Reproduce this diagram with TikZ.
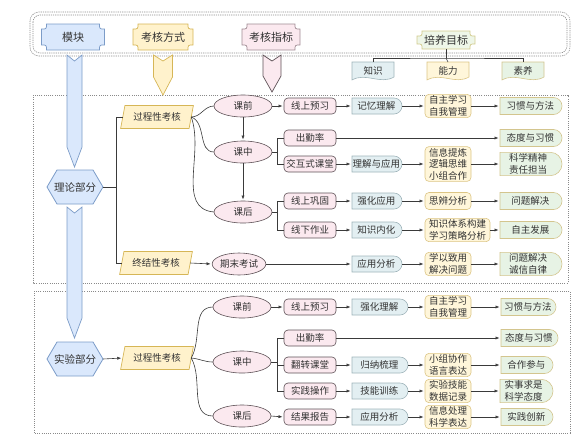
\documentclass[tikz,border=0pt]{standalone}
\usepackage{fontspec}
\newfontfamily\cjk{Noto Sans CJK SC}
\usetikzlibrary{shapes.geometric,shapes.misc,arrows.meta,calc,backgrounds}
\definecolor{txt}{HTML}{333333}
\definecolor{lnC}{HTML}{3A3A3A}
\definecolor{blueF}{HTML}{DAE8FC}
\definecolor{blueD}{HTML}{7C9CC8}
\definecolor{yelF}{HTML}{FFF2CC}
\definecolor{yelD}{HTML}{D6B656}
\definecolor{pinkF}{HTML}{FBE9EF}
\definecolor{pinkD}{HTML}{5E5257}
\definecolor{pinkH}{HTML}{A08C94}
\definecolor{cyanF}{HTML}{E3EFF2}
\definecolor{cyanD}{HTML}{9FB4BA}
\definecolor{creamF}{HTML}{FFF6DA}
\definecolor{creamD}{HTML}{DCC585}
\definecolor{greenF}{HTML}{E7F3E5}
\definecolor{greenD}{HTML}{D3C58E}
\definecolor{goalF}{HTML}{EEF6E8}
\definecolor{goalD}{HTML}{D2CB8E}
\definecolor{frameC}{HTML}{8A8A8A}

\newcommand\plaque[3]{\path[fill=#2,draw=#3,line width=0.7pt]
 ($(#1.north west)+(5pt,0)$) -- ($(#1.north east)+(-5pt,0)$)
 .. controls ($(#1.north east)+(-5pt,-5pt)$) .. ($(#1.north east)+(0,-5pt)$)
 -- ($(#1.south east)+(0,5pt)$)
 .. controls ($(#1.south east)+(-5pt,5pt)$) .. ($(#1.south east)+(-5pt,0)$)
 -- ($(#1.south west)+(5pt,0)$)
 .. controls ($(#1.south west)+(5pt,5pt)$) .. ($(#1.south west)+(0,5pt)$)
 -- ($(#1.north west)+(0,-5pt)$)
 .. controls ($(#1.north west)+(5pt,-5pt)$) .. ($(#1.north west)+(5pt,0)$) -- cycle;}
\newcommand\hexa[3]{\path[fill=#2,draw=#3,line width=0.8pt] (#1.west) -- ($(#1.north west)+(10pt,0)$) -- ($(#1.north east)+(-10pt,0)$) -- (#1.east) -- ($(#1.south east)+(-10pt,0)$) -- ($(#1.south west)+(10pt,0)$) -- cycle;}
\newcommand\docshape[3]{\path[fill=#2,draw=#3,line width=0.6pt] (#1.north west) -- (#1.north east) -- ($(#1.south east)+(0,3pt)$) .. controls ($(#1.south east)+(-14pt,-5pt)$) and ($(#1.south west)+(14pt,8pt)$) .. (#1.south west) -- cycle;}
\newcommand\barrow[8]{\path[fill=#7,draw=#8,line width=0.7pt] (#1-#4,#2) -- (#1,#2+#5) -- (#1+#4,#2) -- (#1+#4,#3-#6) -- (#1,#3) -- (#1-#4,#3-#6) -- cycle;}

\begin{document}
\begin{tikzpicture}[x=1pt,y=-1pt,
  base/.style={font=\cjk\fontsize{9.5}{11.5}\selectfont, text=txt, align=center, inner sep=0pt, outer sep=0pt},
  hdr/.style={base, font=\cjk\fontsize{11}{13}\selectfont},
  ell/.style={base, ellipse, draw=pinkD, fill=pinkF, line width=0.6pt, minimum width=58pt, minimum height=22pt},
  abox/.style={base, draw=pinkD, fill=pinkF, rounded corners=4pt, line width=0.6pt, minimum width=52pt, minimum height=16pt},
  bbox/.style={base, rounded rectangle, rounded rectangle west arc=none, draw=cyanD, fill=cyanF, line width=0.6pt, minimum width=50pt, minimum height=16pt, anchor=west},
  cbox/.style={base, draw=creamD, fill=creamF, rounded corners=4pt, line width=0.6pt, minimum width=46pt, minimum height=17pt, inner xsep=4pt, inner ysep=1.5pt, anchor=west},
  dbox/.style={base, rounded rectangle, rounded rectangle west arc=none, draw=greenD, fill=greenF, line width=0.6pt, minimum width=62pt, minimum height=17pt, inner ysep=1.5pt, anchor=west},
  para/.style={base, trapezium, trapezium left angle=70, trapezium right angle=110, trapezium stretches=true, draw=yelD, fill=yelF, line width=0.7pt, minimum width=73pt, minimum height=23pt},
  part/.style={base, font=\cjk\fontsize{10.5}{12}\selectfont, minimum width=56pt, minimum height=34pt},
  ln/.style={draw=lnC, line width=0.6pt},
  trunk/.style={draw=lnC, line width=1pt},
  arr/.style={ln, -{Latex[length=4pt,width=3.2pt]}, shorten >=1.5pt}]
\useasboundingbox (0,0) rectangle (588,437);

% frames
\draw[frameC, line width=0.6pt, dash pattern=on 1.2pt off 1pt, rounded corners=9pt] (30,12) rectangle (570,56);
\draw[frameC, line width=0.6pt, dash pattern=on 1.2pt off 1pt, rounded corners=7pt] (33,15) rectangle (567,53);
\draw[frameC, line width=0.6pt, dash pattern=on 1pt off 1.2pt] (33,95) rectangle (568,283);
\draw[frameC, line width=0.6pt, dash pattern=on 1pt off 1.2pt] (34,291) rectangle (570,433);

% block arrows
\barrow{74.5}{55}{167}{7.5}{6}{20}{blueF}{blueD}
\barrow{74.5}{207}{338}{7.5}{6}{20}{blueF}{blueD}
\barrow{163}{55}{95}{9.5}{6}{18}{yelF}{yelD}
\barrow{272}{55}{92}{9}{6}{16}{pinkF}{pinkD}

% headers
\node[hdr, minimum width=63pt, minimum height=26pt] (hm) at (73,37) {模块};
\node[hdr, minimum width=60pt, minimum height=26pt] (hk) at (163,37) {考核方式};
\node[hdr, minimum width=58pt, minimum height=26pt] (hz) at (271,37) {考核指标};
\node[hdr, minimum width=58pt, minimum height=18pt] (hp) at (446,40) {培养目标};
\node[base, minimum width=42pt, minimum height=18pt] (zs) at (373,71) {知识};
\node[base, minimum width=42pt, minimum height=18pt] (nl) at (448,71) {能力};
\node[base, minimum width=42pt, minimum height=18pt] (sy) at (523,71) {素养};

% theory part
\node[part] (th) at (75,187) {理论部分};
\node[para] (gc1) at (157,117) {过程性考核};
\node[para] (zj) at (156,263) {终结性考核};
\node[ell] (kq1) at (243,106) {课前};
\node[ell] (kz1) at (243,152) {课中};
\node[ell] (kh1) at (243,212) {课后};
\node[ell, minimum width=50pt] (qm) at (239,264) {期末考试};

\node[abox] (a1) at (310,106) {线上预习};
\node[abox] (a2) at (310,138) {出勤率};
\node[abox] (a3) at (310,164) {交互式课堂};
\node[abox] (a4) at (310,201) {线上巩固};
\node[abox] (a5) at (310,230) {线下作业};

\node[bbox] (b1) at (352,106) {记忆理解};
\node[bbox] (b3) at (352,164) {理解与应用};
\node[bbox] (b4) at (352,201) {强化应用};
\node[bbox] (b5) at (352,230) {知识内化};
\node[bbox] (b6) at (352,264) {应用分析};

\node[cbox] (c1) at (425,106) {自主学习\\自我管理};
\node[cbox] (c3) at (425,164) {信息提炼\\逻辑思维\\小组合作};
\node[cbox] (c4) at (425,201) {思辨分析};
\node[cbox] (c5) at (425,230) {知识体系构建\\学习策略分析};
\node[cbox] (c6) at (425,264) {学以致用\\解决问题};

\node[dbox] (d1) at (500,106) {习惯与方法};
\node[dbox] (d2) at (500,138) {态度与习惯};
\node[dbox] (d3) at (500,164) {科学精神\\责任担当};
\node[dbox] (d4) at (500,201) {问题解决};
\node[dbox] (d5) at (500,230) {自主发展};
\node[dbox] (d6) at (500,264) {问题解决\\诚信自律};

% experiment part
\node[part] (ex) at (75,359) {实验部分};
\node[para] (gc2) at (157,358) {过程性考核};
\node[ell] (kq2) at (242,307) {课前};
\node[ell] (kz2) at (242,362) {课中};
\node[ell] (kh2) at (242,416) {课后};

\node[abox] (e1) at (310,307) {线上预习};
\node[abox] (e2) at (310,338) {出勤率};
\node[abox] (e3) at (310,365) {翻转课堂};
\node[abox] (e4) at (310,391) {实践操作};
\node[abox] (e5) at (310,417) {结果报告};

\node[bbox, minimum width=56pt] (f1) at (352,307) {强化理解};
\node[bbox, minimum width=56pt] (f3) at (352,365) {归纳梳理};
\node[bbox, minimum width=56pt] (f4) at (352,391) {技能训练};
\node[bbox, minimum width=56pt] (f5) at (352,417) {应用分析};

\node[cbox] (g1) at (425,307) {自主学习\\自我管理};
\node[cbox] (g3) at (425,365) {小组协作\\语言表达};
\node[cbox] (g4) at (425,391) {实验技能\\数据记录};
\node[cbox] (g5) at (425,417) {信息处理\\科学表达};

\node[dbox, minimum width=55pt] (h1) at (501,307) {习惯与方法};
\node[dbox, minimum width=57pt] (h2) at (501,338) {态度与习惯};
\node[dbox, minimum width=52pt] (h3) at (501,365) {合作参与};
\node[dbox, minimum width=53pt] (h4) at (500,391) {实事求是\\科学态度};
\node[dbox, minimum width=52pt] (h5) at (501,417) {实践创新};

% custom shape backgrounds
\begin{scope}[on background layer]
\plaque{hm}{blueF}{blueD}
\plaque{hk}{yelF}{yelD}
\plaque{hz}{pinkF}{pinkH}
\plaque{hp}{goalF}{goalD}
\docshape{zs}{cyanF}{cyanD}
\docshape{nl}{creamF}{creamD}
\docshape{sy}{greenF}{greenD}
\hexa{th}{blueF}{blueD}
\hexa{ex}{blueF}{blueD}
\end{scope}

% goal tree
\draw[ln] (hp.south) -- (446,58) coordinate (tj);
\draw[ln] (zs.north) |- (tj) -| (sy.north);
\draw[ln] (tj) -- (nl.north);

% theory connectors
\coordinate (t0) at (116,187);
\draw[trunk] (th.east) -- (t0);
\draw[trunk] (gc1.west) -| (t0);
\draw[trunk] (zj.west) -| (t0);
\draw[ln] (gc1.east) to[out=0,in=180] (kq1.west);
\draw[ln] (gc1.east) to[out=-20,in=180] (kz1.west);
\draw[ln] (gc1.east) to[out=-70,in=175] (kh1.west);
\draw[arr] (kq1.south) -- (kz1.north);
\draw[arr] (kz1.south) -- (kh1.north);
\draw[arr] (kq1.east) -- (a1.west);
\draw[arr] (a1.east) -- (b1.west);
\draw[arr] (b1.east) -- (c1.west);
\draw[arr] (c1.east) -- (d1.west);
\coordinate (bk1) at (277,152);
\draw[ln] (kz1.east) -- (bk1);
\draw[ln] (a2.west) -| (bk1);
\draw[ln] (a3.west) -| (bk1);
\draw[arr] (a2.east) -- (d2.west);
\draw[arr] (a3.east) -- (b3.west);
\draw[arr] (b3.east) -- (c3.west);
\draw[arr] (c3.east) -- (d3.west);
\coordinate (bk3) at (277,212);
\draw[ln] (kh1.east) -- (bk3);
\draw[ln] (a4.west) -| (bk3);
\draw[ln] (a5.west) -| (bk3);
\draw[arr] (a4.east) -- (b4.west);
\draw[arr] (b4.east) -- (c4.west);
\draw[arr] (c4.east) -- (d4.west);
\draw[arr] (a5.east) -- (b5.west);
\draw[arr] (b5.east) -- (c5.west);
\draw[arr] (c5.east) -- (d5.west);
\draw[arr] (zj.east) -- (qm.west);
\draw[arr] (qm.east) -- (b6.west);
\draw[arr] (b6.east) -- (c6.west);
\draw[arr] (c6.east) -- (d6.west);

% experiment connectors
\draw[arr] (ex.east) -- (gc2.west);
\draw[ln] (gc2.east) to[out=60,in=180] (kq2.west);
\draw[ln] (gc2.east) to[out=-5,in=180] (kz2.west);
\draw[ln] (gc2.east) to[out=-60,in=180] (kh2.west);
\draw[arr] (kq2.east) -- (e1.west);
\draw[arr] (e1.east) -- (f1.west);
\draw[arr] (f1.east) -- (g1.west);
\draw[arr] (g1.east) -- (h1.west);
\coordinate (bk2) at (277,362);
\draw[ln] (kz2.east) -- (bk2);
\draw[ln] (e2.west) -| (bk2);
\draw[ln] (e3.west) -| (bk2);
\draw[ln] (e4.west) -| (bk2);
\draw[arr] (e2.east) -- (h2.west);
\draw[arr] (e3.east) -- (f3.west);
\draw[arr] (f3.east) -- (g3.west);
\draw[arr] (g3.east) -- (h3.west);
\draw[arr] (e4.east) -- (f4.west);
\draw[arr] (f4.east) -- (g4.west);
\draw[arr] (g4.east) -- (h4.west);
\draw[arr] (kh2.east) -- (e5.west);
\draw[arr] (e5.east) -- (f5.west);
\draw[arr] (f5.east) -- (g5.west);
\draw[arr] (g5.east) -- (h5.west);
\end{tikzpicture}
\end{document}
